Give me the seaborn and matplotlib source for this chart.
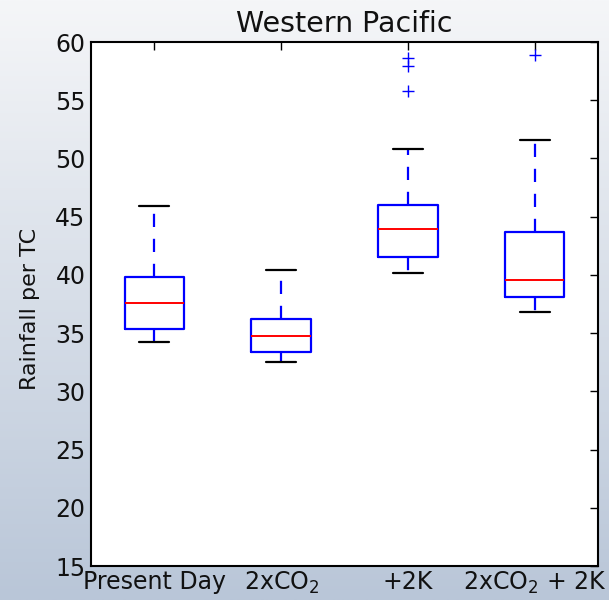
import numpy as np
import matplotlib
matplotlib.use("Agg")
import matplotlib.pyplot as plt
import seaborn as sns

# Summary statistics of rainfall per TC for each experiment
experiments = ["Present Day", "2xCO$_2$", "+2K", "2xCO$_2$ + 2K"]
whisker_low = [34.2, 32.5, 40.2, 36.8]
q1 = [35.35, 33.35, 41.5, 38.1]
median = [37.6, 34.75, 43.9, 39.6]
q3 = [39.8, 36.2, 46.0, 43.65]
whisker_high = [45.9, 40.4, 50.85, 51.6]
outliers = [[], [], [55.8, 57.95, 58.6], [58.9]]

sns.set_style("white")
plt.rcParams["font.family"] = ["DejaVu Sans"]
plt.rcParams["lines.scale_dashes"] = False
plt.rcParams["text.color"] = "#111111"
plt.rcParams["axes.labelcolor"] = "#111111"
plt.rcParams["xtick.color"] = "#111111"
plt.rcParams["ytick.color"] = "#111111"

fig = plt.figure(figsize=(6.09, 6.0), dpi=100)

# vertical background gradient
bg = fig.add_axes([0, 0, 1, 1], zorder=0)
top = np.array([0xf5, 0xf6, 0xf8]) / 255.0
bot = np.array([0xb9, 0xc6, 0xd8]) / 255.0
t = np.linspace(0, 1, 256)[:, None]
grad = (top[None, :] * (1 - t) + bot[None, :] * t)[:, None, :]
bg.imshow(grad, aspect="auto", extent=[0, 1, 0, 1])
bg.set_axis_off()

ax = fig.add_axes([91 / 609, 1 - 566 / 600, 507 / 609, 524 / 600], zorder=1)
ax.set_facecolor("white")

stats = []
for i, name in enumerate(experiments):
    stats.append(dict(label=name, whislo=whisker_low[i], q1=q1[i], med=median[i],
                      q3=q3[i], whishi=whisker_high[i], fliers=outliers[i]))

ax.bxp(stats, positions=[1, 2, 3, 4], widths=0.47,
       boxprops=dict(color="#0000ff", linewidth=1.6),
       medianprops=dict(color="#ff0000", linewidth=1.4),
       whiskerprops=dict(color="#0000ff", linewidth=1.6, linestyle=(0, (9.5, 8.5))),
       capprops=dict(color="black", linewidth=1.6),
       flierprops=dict(marker="+", markeredgecolor="#0000ff", markersize=9,
                       markeredgewidth=1.0, linestyle="none"))

ax.set_xlim(0.5, 4.5)
ax.set_ylim(15, 60)
ax.set_yticks(np.arange(15, 61, 5))
ax.set_title("Western Pacific", fontsize=20.5, pad=7)
ax.set_ylabel("Rainfall per TC", fontsize=16)
ax.yaxis.set_label_coords(-0.10, 0.49)
ax.tick_params(axis="both", which="major", direction="in", length=6, width=1,
               top=True, right=True, labelsize=17, color="black", pad=4)
ax.tick_params(axis="x", pad=3)
for s in ax.spines.values():
    s.set_visible(True)
    s.set_color("black")
    s.set_linewidth(1.5)

fig.savefig("out.png", dpi=100)
